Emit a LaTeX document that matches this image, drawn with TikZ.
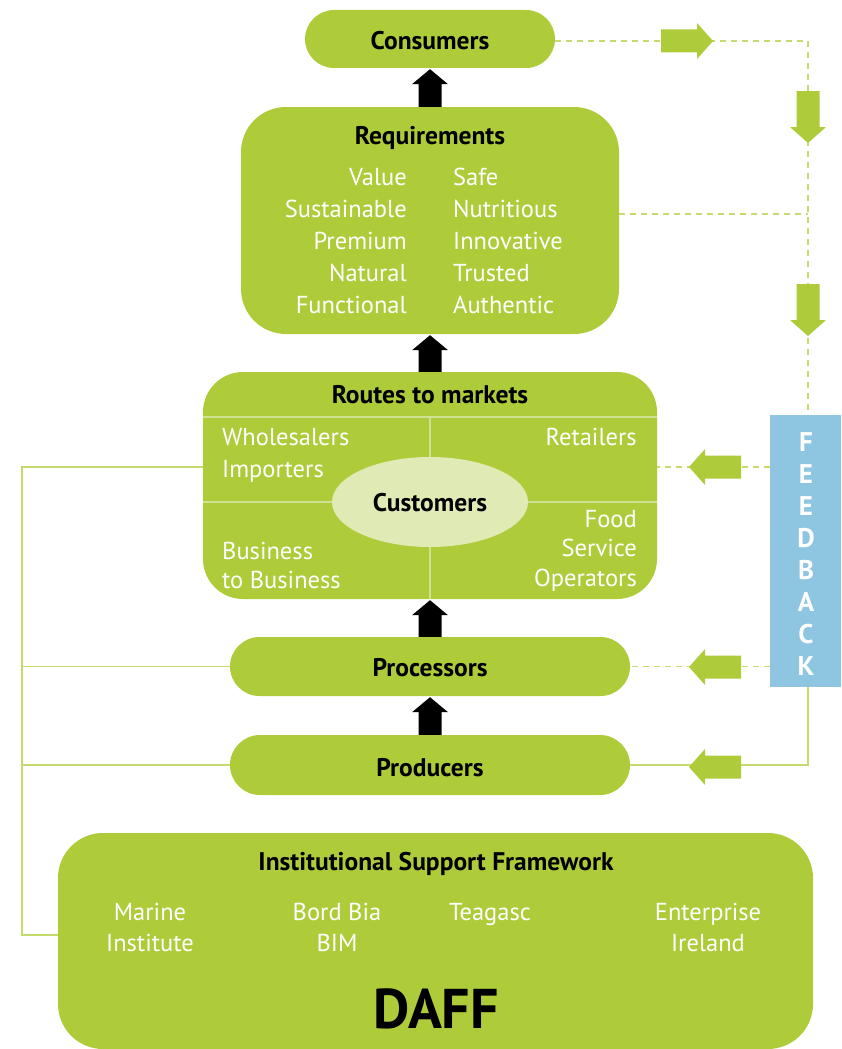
\documentclass[tikz,border=0pt]{standalone}
\usepackage{fontspec}
\setmainfont{PT Sans}
\usetikzlibrary{calc,shapes.geometric}
\definecolor{gr}{RGB}{174,204,58}
\definecolor{grline}{RGB}{196,220,110}
\definecolor{grinner}{RGB}{206,226,150}
\definecolor{elfill}{RGB}{223,234,181}
\definecolor{fbblue}{RGB}{142,197,224}
\tikzset{
  box/.style={rectangle,fill=gr,inner sep=0pt},
  ttl/.style={font=\fontsize{25.5}{29}\selectfont\bfseries,text=black,inner sep=0pt,anchor=base},
  itm/.style={font=\fontsize{24.5}{28}\selectfont,text=white,inner sep=0pt},
  fbl/.style={font=\fontsize{27}{30}\selectfont\bfseries,text=white,inner sep=0pt,anchor=base},
  dsh/.style={draw=grline,line width=1.3pt,dash pattern=on 6pt off 5pt},
  sol/.style={draw=grline,line width=1.3pt},
  inl/.style={draw=grinner,line width=1.2pt},
}
\newcommand\uparrowbetween[2]{%
  \fill[black] let \p1=(#1.north), \p2=(#2.south) in
  (\x1-11.5pt,\y1) -- (\x1-11.5pt,\y2-16pt) -- (\x1-18pt,\y2-16pt) -- (\x1,\y2-1pt)
  -- (\x1+18pt,\y2-16pt) -- (\x1+11.5pt,\y2-16pt) -- (\x1+11.5pt,\y1) -- cycle;}
\newcommand\garrow[2]{%
  \begin{scope}[shift={#1},rotate=#2]
  \fill[gr] (0,-11.5) -- (36,-11.5) -- (36,-18) -- (52,0) -- (36,18) -- (36,11.5) -- (0,11.5) -- cycle;
  \end{scope}}
\begin{document}
\begin{tikzpicture}[x=1pt,y=-1pt]
\useasboundingbox (0,0) rectangle (841,1049);
% boxes
\node[box,minimum width=250pt,minimum height=58pt,rounded corners=29pt] (cons) at (430,39) {};
\node[box,minimum width=378pt,minimum height=227pt,rounded corners=45pt] (req) at (430,220.5) {};
\node[box,minimum width=454pt,minimum height=227pt,rounded corners=40pt] (routes) at (430,485.5) {};
\node[box,minimum width=400pt,minimum height=59pt,rounded corners=29.5pt] (proc) at (430,666.5) {};
\node[box,minimum width=400pt,minimum height=60pt,rounded corners=30pt] (prod) at (430,765) {};
\node[box,minimum width=755pt,minimum height=216pt,rounded corners=45pt] (isf) at (435.5,941) {};
\node[rectangle,fill=fbblue,minimum width=71pt,minimum height=272pt,inner sep=0pt] (fb) at (805.5,551) {};
% routes inner lines
\coordinate (h1) at (430,417);
\coordinate (h2) at (430,502);
\draw[inl] (h1 -| routes.west) -- (h1 -| routes.east);
\draw[inl] (h2 -| routes.west) -- (h2 -| routes.east);
\draw[inl] (h1) -- (h1 |- routes.south);
\node[ellipse,fill=elfill,minimum width=196pt,minimum height=90pt,inner sep=0pt] (cust) at (430,502) {};
% titles
\node[ttl] (tcons) at (430,49) {Consumers};
\node[ttl] (treq) at (430,144) {Requirements};
\node[ttl] (troutes) at (430,403) {Routes to markets};
\node[ttl] (tcust) at (430,511) {Customers};
\node[ttl] (tproc) at (430,676) {Processors};
\node[ttl] (tprod) at (430,776) {Producers};
\node[ttl] (tisf) at (436,870) {Institutional Support Framework};
% requirements items
\foreach \l/\r/\y [count=\i] in {Value/Safe/185,Sustainable/Nutritious/217,Premium/Innovative/249,Natural/Trusted/281,Functional/Authentic/313}{
  \node[itm,anchor=base east] (rl\i) at (407,\y) {\l};
  \node[itm,anchor=base west] (rr\i) at (453,\y) {\r};
}
% routes items
\node[itm,anchor=base west] (w1) at (222,445) {Wholesalers};
\node[itm,anchor=base west] (w2) at (222,477) {Importers};
\node[itm,anchor=base east] (rt) at (637,445) {Retailers};
\node[itm,anchor=base west] (b1) at (222,559) {Business};
\node[itm,anchor=base west] (b2) at (222,588) {to Business};
\node[itm,anchor=base east] (f1) at (637,527) {Food};
\node[itm,anchor=base east] (f2) at (637,556) {Service};
\node[itm,anchor=base east] (f3) at (637,586) {Operators};
% isf items
\node[itm,anchor=base] (m1) at (150,920) {Marine};
\node[itm,anchor=base] (m2) at (150,951) {Institute};
\node[itm,anchor=base] (bb1) at (337,920) {Bord Bia};
\node[itm,anchor=base] (bb2) at (337,951) {BIM};
\node[itm,anchor=base] (tg) at (490,920) {Teagasc};
\node[itm,anchor=base] (e1) at (708,920) {Enterprise};
\node[itm,anchor=base] (e2) at (708,951) {Ireland};
\node[font=\fontsize{56}{60}\selectfont\bfseries,text=black,inner sep=0pt,anchor=base] (daff) at (436,1028) {DAFF};
% feedback letters
\foreach \c [count=\i] in {F,E,E,D,B,A,C,K}{
  \node[fbl] (fbl\i) at (806,{441+(\i-1)*32+10}) {\c};
}
% black arrows
\uparrowbetween{req}{cons}
\uparrowbetween{routes}{req}
\uparrowbetween{proc}{routes}
\uparrowbetween{prod}{proc}
% feedback connectors
\coordinate (c1) at (808,41);
\coordinate (r1) at (808,214);
\coordinate (p1) at (770,467);
\draw[dsh] (cons.east |- c1) -- (c1) -- (c1 |- fb.north);
\draw[dsh] (r1 -| req.east) -- (r1);
\draw[dsh] (p1) -- (p1 -| routes.east);
\draw[dsh] (fb.west |- proc.east) -- (proc.east);
\draw[sol] (c1 |- fb.south) -- (c1 |- prod.east) -- (prod.east);
\garrow{(661,41)}{0}
\garrow{(808,91)}{-90}
\garrow{(808,284)}{-90}
\garrow{(741,467)}{180}
\garrow{(741,667)}{180}
\garrow{(741,767)}{180}
% left support connectors
\coordinate (l1) at (22,467);
\coordinate (l2) at (22,935);
\draw[sol] (l1 -| routes.west) -- (l1) -- (l2) -- (l2 -| isf.west);
\draw[sol] (proc.west) -- (proc.west -| l1);
\draw[sol] (prod.west) -- (prod.west -| l1);
\end{tikzpicture}
\end{document}
